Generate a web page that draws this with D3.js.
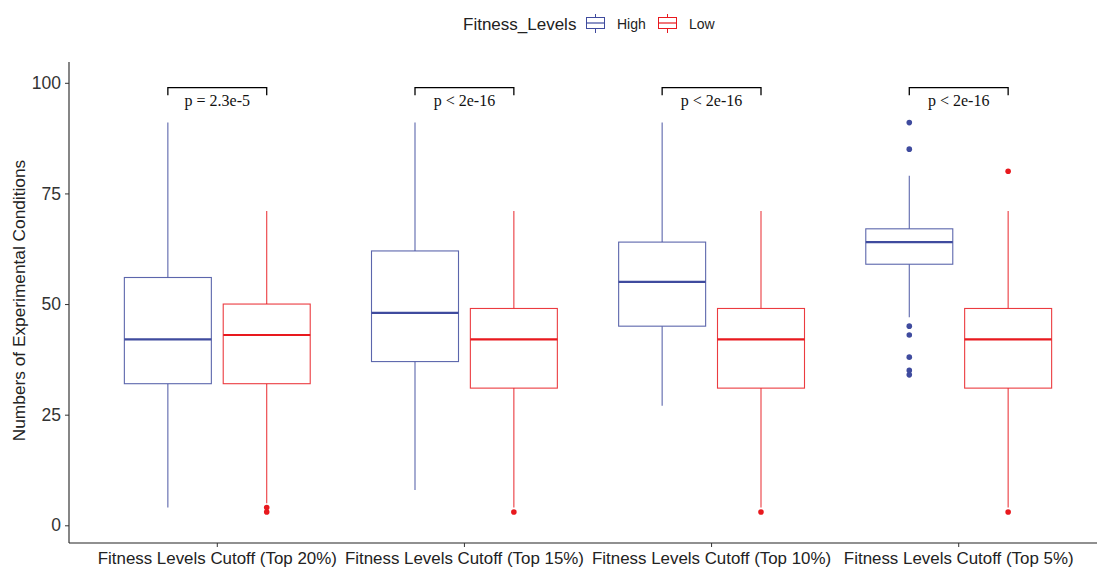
<!DOCTYPE html>
<html>
<head>
<meta charset="utf-8">
<script src="https://cdn.jsdelivr.net/npm/d3@7"></script>
<style>
  html, body { margin: 0; padding: 0; background: #fff; }
  svg { display: block; font-family: "Liberation Sans", Arial, sans-serif; }
</style>
</head>
<body>
<svg id="chart" width="1097" height="569"></svg>
<script>
// Cutoff groups along the x axis
const categories = [
  "Fitness Levels Cutoff (Top 20%)",
  "Fitness Levels Cutoff (Top 15%)",
  "Fitness Levels Cutoff (Top 10%)",
  "Fitness Levels Cutoff (Top 5%)"
];
const levels = ["High", "Low"];

// Five-number summaries per cutoff: [lower whisker, Q1, median, Q3, upper whisker]
const highStats = [
  [4, 32, 42, 56, 91],
  [8, 37, 48, 62, 91],
  [27, 45, 55, 64, 91],
  [47, 59, 64, 67, 79]
];
const lowStats = [
  [5, 32, 43, 50, 71],
  [4, 31, 42, 49, 71],
  [4, 31, 42, 49, 71],
  [4, 31, 42, 49, 71]
];

// Outlying observations per cutoff
const highOutliers = [[], [], [], [91, 85, 45, 43, 38, 35, 34]];
const lowOutliers = [[4, 3], [3], [3], [80, 3]];

// Wilcoxon test labels above each pair
const pLabels = ["p = 2.3e-5", "p < 2e-16", "p < 2e-16", "p < 2e-16"];
const yTicks = [0, 25, 50, 75, 100];

const colors = { High: "#3F4B9E", Low: "#E8191E" };

(function draw() {
  const svg = d3.select("#chart");
  const W = 1097;
  const mLeft = 69, mTop = 62, mBottom = 543;

  const x = d3.scaleBand().domain(categories).range([mLeft, 1107]).paddingInner(0).paddingOuter(0.1);
  const dodge = d3.scaleBand().domain(levels).range([-x.step() * 0.4, x.step() * 0.4]);
  const boxW = dodge.bandwidth() * 0.88;
  const y = d3.scaleLinear().domain([-4, 104.7]).range([mBottom, mTop]);

  const plot = svg.append("g");

  // Box plots
  const series = [
    { level: "High", stats: highStats, outliers: highOutliers },
    { level: "Low", stats: lowStats, outliers: lowOutliers }
  ];

  series.forEach(s => {
    const col = colors[s.level];
    s.stats.forEach((st, i) => {
      const cx = x(categories[i]) + x.bandwidth() / 2 + dodge(s.level) + dodge.bandwidth() / 2;
      const [lo, q1, med, q3, hi] = st;
      const g = plot.append("g");
      // whiskers
      g.append("line").attr("x1", cx).attr("x2", cx).attr("y1", y(q3)).attr("y2", y(hi))
        .attr("stroke", col).attr("stroke-width", 1.1).attr("stroke-opacity", 0.85);
      g.append("line").attr("x1", cx).attr("x2", cx).attr("y1", y(q1)).attr("y2", y(lo))
        .attr("stroke", col).attr("stroke-width", 1.1).attr("stroke-opacity", 0.85);
      // box
      g.append("rect").attr("x", cx - boxW / 2).attr("width", boxW)
        .attr("y", y(q3)).attr("height", y(q1) - y(q3))
        .attr("fill", "#fff").attr("stroke", col).attr("stroke-width", 1.1).attr("stroke-opacity", 0.85);
      // median
      g.append("line").attr("x1", cx - boxW / 2).attr("x2", cx + boxW / 2)
        .attr("y1", y(med)).attr("y2", y(med))
        .attr("stroke", col).attr("stroke-width", 2.2);
      // outliers
      g.selectAll("circle").data(s.outliers[i]).join("circle")
        .attr("cx", cx).attr("cy", d => y(d)).attr("r", 2.8).attr("fill", col);
    });
  });

  // Significance brackets
  categories.forEach((c, i) => {
    const cx = x(c) + x.bandwidth() / 2;
    const x1 = cx + dodge("High") + dodge.bandwidth() / 2;
    const x2 = cx + dodge("Low") + dodge.bandwidth() / 2;
    const yTop = y(98.9), yEnd = y(97.2);
    plot.append("path")
      .attr("d", `M${x1},${yEnd}V${yTop}H${x2}V${yEnd}`)
      .attr("fill", "none").attr("stroke", "#000").attr("stroke-width", 1.3);
    plot.append("text")
      .attr("x", (x1 + x2) / 2).attr("y", yTop + 18)
      .attr("text-anchor", "middle")
      .style("font-family", "'Liberation Serif', 'Times New Roman', serif")
      .style("font-size", "16px").attr("fill", "#111")
      .text(pLabels[i]);
  });

  // Y axis
  const yAxis = svg.append("g").attr("transform", `translate(${mLeft},0)`)
    .call(d3.axisLeft(y).tickValues(yTicks).tickSize(4).tickPadding(4));
  yAxis.select(".domain").attr("d", `M0,${mTop}V${mBottom}`).attr("stroke", "#222").attr("stroke-width", 1.1);
  yAxis.selectAll(".tick line").attr("stroke", "#333");
  yAxis.selectAll(".tick text").style("font-size", "17.5px").attr("fill", "#333");

  // X axis
  const xAxis = svg.append("g").attr("transform", `translate(0,${mBottom})`)
    .call(d3.axisBottom(x).tickSize(4).tickPadding(5));
  xAxis.select(".domain").attr("d", `M${mLeft},0H${W}`).attr("stroke", "#222").attr("stroke-width", 1.1);
  xAxis.selectAll(".tick line").attr("stroke", "#333");
  xAxis.selectAll(".tick text").style("font-size", "16.9px").attr("fill", "#222");

  // Y axis title
  svg.append("text")
    .attr("transform", `translate(25,${(mTop + mBottom) / 2 - 2}) rotate(-90)`)
    .attr("text-anchor", "middle")
    .style("font-size", "17.3px").attr("fill", "#222")
    .text("Numbers of Experimental Conditions");

  // Legend
  const legend = svg.append("g");
  legend.append("text").attr("x", 463).attr("y", 30)
    .style("font-size", "17px").attr("fill", "#222").text("Fitness_Levels");
  const keyX = [585, 657];
  levels.forEach((lv, i) => {
    const kx = keyX[i], col = colors[lv];
    const k = legend.append("g");
    k.append("line").attr("x1", kx + 10.5).attr("x2", kx + 10.5).attr("y1", 14).attr("y2", 33)
      .attr("stroke", col).attr("stroke-width", 1);
    k.append("rect").attr("x", kx + 1.5).attr("y", 17.5).attr("width", 18).attr("height", 11)
      .attr("fill", "#fff").attr("stroke", col).attr("stroke-width", 1);
    k.append("line").attr("x1", kx + 1.5).attr("x2", kx + 19.5).attr("y1", 23).attr("y2", 23)
      .attr("stroke", col).attr("stroke-width", 1.2);
    legend.append("text").attr("x", kx + 32).attr("y", 29)
      .style("font-size", "14px").attr("fill", "#222").text(lv);
  });
})();
</script>
</body>
</html>
